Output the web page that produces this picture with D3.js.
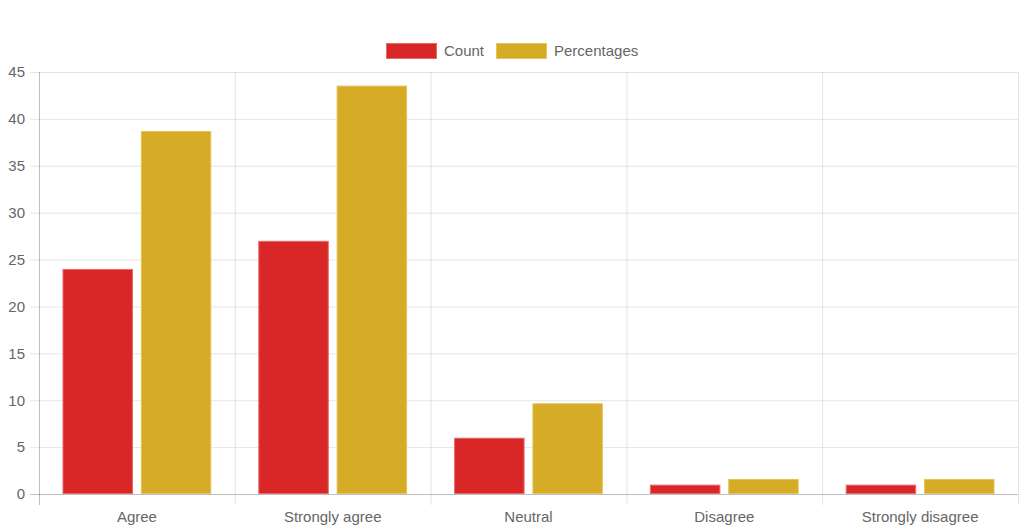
<!DOCTYPE html>
<html>
<head>
<meta charset="utf-8">
<script src="https://cdn.jsdelivr.net/npm/d3@7"></script>
<style>
  body { margin: 0; background: #fff; }
  svg text { font-family: "Liberation Sans", Arial, Helvetica, sans-serif; fill: #666; }
</style>
</head>
<body>
<svg id="chart"></svg>
<script>
// chart data
const categories = ['Agree', 'Strongly agree', 'Neutral', 'Disagree', 'Strongly disagree'];
const seriesNames = ['Count', 'Percentages'];
const countValues = [24, 27, 6, 1, 1];
const percentValues = [38.71, 43.55, 9.68, 1.61, 1.61];
const yTicks = [0, 5, 10, 15, 20, 25, 30, 35, 40, 45];
const colors = ['#d92626', '#d6ab26'];
const borders = ['#e86a6a', '#e6c45e'];

const W = 1020, H = 532;
const margin = { top: 72, right: 2, bottom: 38, left: 39 };
const width = W - margin.left - margin.right;
const height = H - margin.top - margin.bottom;

const svg = d3.select('#chart').attr('width', W).attr('height', H);
const g = svg.append('g').attr('transform', `translate(${margin.left},${margin.top})`);

const x = d3.scaleBand().domain(categories).range([0, width]);
const inner = d3.scaleBand().domain(seriesNames)
  .range([x.bandwidth() * 0.1, x.bandwidth() * 0.9]).paddingInner(0.1).paddingOuter(0.05);
const y = d3.scaleLinear().domain([0, 45]).range([height, 0]);

// horizontal grid + y labels
const yAxis = d3.axisLeft(y).tickValues(yTicks).tickSize(-width).tickPadding(5);
g.append('g').call(yAxis)
  .call(s => s.select('.domain').remove())
  .call(s => s.selectAll('.tick line')
    .attr('x1', -9)
    .attr('stroke', d => d === 0 ? 'rgba(0,0,0,0.25)' : 'rgba(0,0,0,0.1)'))
  .call(s => s.selectAll('.tick text').style('font-size', '15px').attr('x', -14));

// vertical grid lines at category boundaries
const bounds = categories.map(c => x(c)).concat([width]);
g.append('g').selectAll('line').data(bounds).join('line')
  .attr('x1', d => d + 0.5).attr('x2', d => d + 0.5)
  .attr('y1', 0).attr('y2', height + 11)
  .attr('stroke', (d, i) => i === 0 ? 'rgba(0,0,0,0.25)' : 'rgba(0,0,0,0.1)');

// x labels
const xAxis = d3.axisBottom(x).tickSize(0).tickPadding(17);
g.append('g').attr('transform', `translate(0,${height})`).call(xAxis)
  .call(s => s.select('.domain').remove())
  .call(s => s.selectAll('.tick text').style('font-size', '15px'));

// bars
const rows = categories.map((c, i) => ({ cat: c, vals: [countValues[i], percentValues[i]] }));
const grp = g.append('g').selectAll('g').data(rows).join('g')
  .attr('transform', d => `translate(${x(d.cat)},0)`);
grp.selectAll('rect').data(d => d.vals.map((v, j) => ({ key: seriesNames[j], v, j }))).join('rect')
  .attr('x', d => inner(d.key) + 0.5)
  .attr('y', d => y(d.v) + 0.5)
  .attr('width', inner.bandwidth() - 1)
  .attr('height', d => y(0) - y(d.v) - 1)
  .attr('fill', d => colors[d.j])
  .attr('stroke', d => borders[d.j])
  .attr('stroke-width', 1);

// legend
const legendItems = [{ name: 'Count', x: 386 }, { name: 'Percentages', x: 496 }];
const lg = svg.append('g');
legendItems.forEach((it, i) => {
  lg.append('rect').attr('x', it.x + 0.5).attr('y', 43.5).attr('width', 50).attr('height', 15)
    .attr('fill', colors[i]).attr('stroke', borders[i]);
  lg.append('text').attr('x', it.x + 58).attr('y', 51).attr('dy', '0.35em')
    .style('font-size', '15px').text(it.name);
});
</script>
</body>
</html>
